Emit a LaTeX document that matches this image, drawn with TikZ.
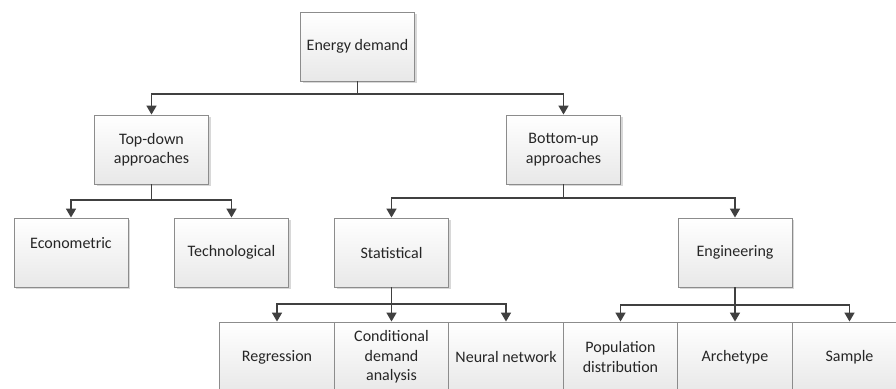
\documentclass[tikz,border=0pt]{standalone}
\usepackage{fontspec}
\setmainfont{Carlito}
\usetikzlibrary{arrows.meta,shadows}
\definecolor{linec}{HTML}{404040}
\definecolor{boxc}{HTML}{8C8C8C}
\definecolor{txtc}{HTML}{262626}
\begin{document}
\begin{tikzpicture}[x=1pt,y=-1pt,
  box/.style={rectangle, draw=boxc, line width=0.9pt, top color=white, bottom color=black!9,
    minimum width=114pt, minimum height=69pt, inner sep=2pt, align=center, text=txtc,
    font=\fontsize{16}{19.5}\selectfont,
    drop shadow={shadow xshift=2pt, shadow yshift=-2pt, fill=black!25, opacity=0.6}},
  leaf/.style={box, minimum width=114.5pt, minimum height=70pt, drop shadow={opacity=0}},
  conn/.style={draw=linec, line width=1.6pt},
  arr/.style={conn, -{Triangle[length=9pt,width=10pt]}}]
\useasboundingbox (0,0) rectangle (896,388);
\fill[white] (0,0) rectangle (896,388);
\node[box] (ed) at (357.5,46.5) {Energy demand};
\node[box] (td) at (151.5,149.5) {Top-down\\approaches};
\node[box] (bu) at (563.5,149.5) {Bottom-up\\approaches};
\node[box] (econ) at (71,252.5) {Econometric\\\mbox{}};
\node[box] (tech) at (231.5,252.5) {Technological};
\node[box] (stat) at (391.5,252.5) {Statistical};
\node[box] (eng) at (735,252.5) {Engineering};
\begin{scope}
\clip (0,0) rectangle (896,388);
\node[leaf] (reg) at (277,357) {Regression};
\node[leaf] (cda) at (391.5,357) {Conditional\\demand\\analysis};
\node[leaf] (nn) at (506,357) {Neural network};
\node[leaf] (pop) at (620.5,357) {Population\\distribution};
\node[leaf] (arch) at (735,357) {Archetype};
\node[leaf] (samp) at (849.5,357) {Sample};
\end{scope}
\coordinate (j1) at (357.5,94);
\coordinate (j2) at (151.5,200);
\coordinate (j3) at (563.5,198);
\coordinate (j4) at (391.5,304);
\coordinate (j5) at (735,305);
\draw[conn] (ed.south) -- (j1);
\draw[arr] (j1) -| (td.north);
\draw[arr] (j1) -| (bu.north);
\draw[conn] (td.south) -- (j2);
\draw[arr] (j2) -| (econ.north);
\draw[arr] (j2) -| (tech.north);
\draw[conn] (bu.south) -- (j3);
\draw[arr] (j3) -| (stat.north);
\draw[arr] (j3) -| (eng.north);
\draw[conn] (stat.south) -- (j4);
\draw[arr] (j4) -| (reg.north);
\draw[arr] (j4) -- (cda.north);
\draw[arr] (j4) -| (nn.north);
\draw[conn] (eng.south) -- (j5);
\draw[arr] (j5) -| (pop.north);
\draw[arr] (j5) -- (arch.north);
\draw[arr] (j5) -| (samp.north);
\end{tikzpicture}
\end{document}
